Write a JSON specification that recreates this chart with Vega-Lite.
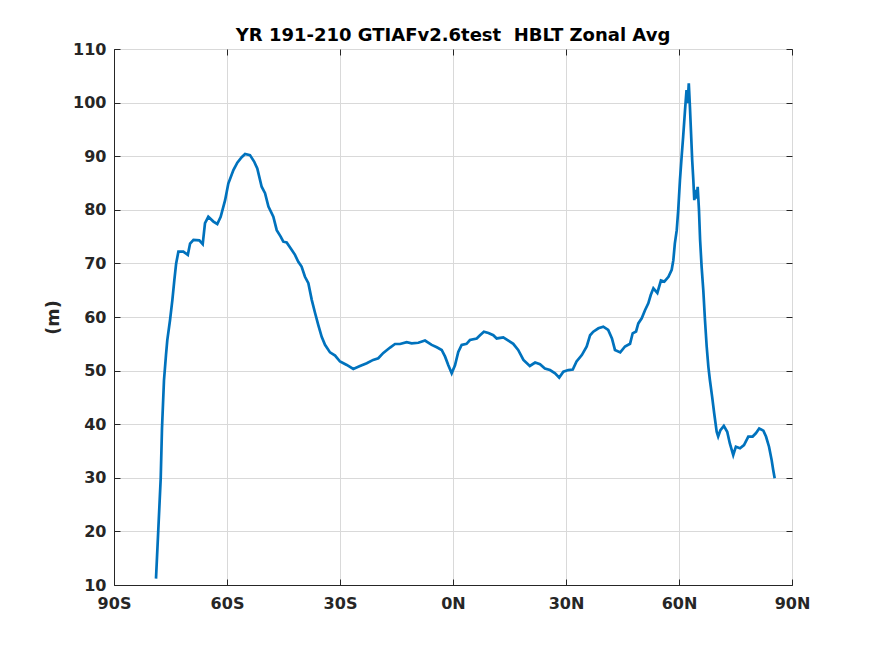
{
  "$schema": "https://vega.github.io/schema/vega-lite/v6.json",
  "width": 678,
  "height": 536,
  "autosize": {"type": "none"},
  "padding": {"left": 114, "top": 49, "right": 83, "bottom": 71},
  "background": "white",
  "view": {"stroke": "#262626", "strokeWidth": 1},
  "title": {
    "text": "YR 191-210 GTIAFv2.6test \u00a0HBLT Zonal Avg",
    "font": "DejaVu Sans", "fontSize": 18, "fontWeight": "bold", "color": "#000000", "offset": -4
  },
  "config": {
    "axis": {
      "labelFont": "DejaVu Sans", "labelFontSize": 16, "labelFontWeight": "bold", "labelColor": "#262626",
      "labelFlush": false,
      "titleFont": "DejaVu Sans", "titleFontSize": 17.6, "titleFontWeight": "bold", "titleColor": "#262626",
      "gridColor": "#d9d9d9", "domainColor": "#262626", "tickColor": "#262626",
      "tickSize": -6
    }
  },
  "data": {
    "values": [
      {"lat": -78.85, "hblt": 11.2},
      {"lat": -78.2, "hblt": 20.9},
      {"lat": -77.6, "hblt": 29.9},
      {"lat": -77.26, "hblt": 39.2},
      {"lat": -76.73, "hblt": 48.2},
      {"lat": -76.2, "hblt": 52.9},
      {"lat": -75.85, "hblt": 55.7},
      {"lat": -75.13, "hblt": 59.4},
      {"lat": -74.5, "hblt": 63.2},
      {"lat": -73.98, "hblt": 66.9},
      {"lat": -73.5, "hblt": 70.0},
      {"lat": -72.9, "hblt": 72.2},
      {"lat": -71.6, "hblt": 72.2},
      {"lat": -70.4, "hblt": 71.6},
      {"lat": -69.8, "hblt": 73.7},
      {"lat": -68.9, "hblt": 74.4},
      {"lat": -67.35, "hblt": 74.3},
      {"lat": -66.45, "hblt": 73.6},
      {"lat": -65.84, "hblt": 77.5},
      {"lat": -64.96, "hblt": 78.7},
      {"lat": -63.6, "hblt": 77.8},
      {"lat": -62.58, "hblt": 77.35},
      {"lat": -61.68, "hblt": 78.7},
      {"lat": -60.5, "hblt": 81.8},
      {"lat": -59.65, "hblt": 84.9},
      {"lat": -58.3, "hblt": 87.4},
      {"lat": -57.26, "hblt": 88.8},
      {"lat": -56.1, "hblt": 89.8},
      {"lat": -55.2, "hblt": 90.4},
      {"lat": -53.9, "hblt": 90.2},
      {"lat": -52.8, "hblt": 89.0},
      {"lat": -51.96, "hblt": 87.7},
      {"lat": -50.8, "hblt": 84.3},
      {"lat": -49.9, "hblt": 83.1},
      {"lat": -49.0, "hblt": 80.6},
      {"lat": -47.7, "hblt": 78.7},
      {"lat": -46.8, "hblt": 76.2},
      {"lat": -45.75, "hblt": 75.0},
      {"lat": -45.05, "hblt": 74.05},
      {"lat": -44.16, "hblt": 73.9},
      {"lat": -42.8, "hblt": 72.5},
      {"lat": -41.95, "hblt": 71.6},
      {"lat": -41.07, "hblt": 70.3},
      {"lat": -40.2, "hblt": 69.4},
      {"lat": -39.3, "hblt": 67.5},
      {"lat": -38.4, "hblt": 66.3},
      {"lat": -37.5, "hblt": 63.2},
      {"lat": -36.6, "hblt": 60.7},
      {"lat": -35.76, "hblt": 58.5},
      {"lat": -34.86, "hblt": 56.3},
      {"lat": -33.98, "hblt": 54.8},
      {"lat": -32.65, "hblt": 53.4},
      {"lat": -31.3, "hblt": 52.8},
      {"lat": -30.0, "hblt": 51.7},
      {"lat": -28.2, "hblt": 51.05},
      {"lat": -26.47, "hblt": 50.3},
      {"lat": -24.7, "hblt": 50.86},
      {"lat": -22.9, "hblt": 51.36},
      {"lat": -21.2, "hblt": 52.0},
      {"lat": -19.83, "hblt": 52.3},
      {"lat": -18.5, "hblt": 53.3},
      {"lat": -16.7, "hblt": 54.3},
      {"lat": -15.4, "hblt": 54.96},
      {"lat": -14.07, "hblt": 54.96},
      {"lat": -12.3, "hblt": 55.3},
      {"lat": -10.97, "hblt": 55.1},
      {"lat": -9.2, "hblt": 55.2},
      {"lat": -7.43, "hblt": 55.6},
      {"lat": -5.66, "hblt": 54.8},
      {"lat": -4.3, "hblt": 54.35},
      {"lat": -3.0, "hblt": 53.85},
      {"lat": -2.1, "hblt": 52.6},
      {"lat": -1.24, "hblt": 51.0},
      {"lat": -0.35, "hblt": 49.5},
      {"lat": 0.53, "hblt": 51.0},
      {"lat": 1.4, "hblt": 53.5},
      {"lat": 2.3, "hblt": 54.8},
      {"lat": 3.6, "hblt": 55.0},
      {"lat": 4.5, "hblt": 55.7},
      {"lat": 6.3, "hblt": 56.0},
      {"lat": 7.17, "hblt": 56.6},
      {"lat": 8.2, "hblt": 57.26},
      {"lat": 9.4, "hblt": 57.0},
      {"lat": 10.7, "hblt": 56.6},
      {"lat": 11.6, "hblt": 56.0},
      {"lat": 13.35, "hblt": 56.2},
      {"lat": 14.7, "hblt": 55.6},
      {"lat": 16.0, "hblt": 55.0},
      {"lat": 17.3, "hblt": 53.85},
      {"lat": 18.7, "hblt": 52.0},
      {"lat": 20.4, "hblt": 50.86},
      {"lat": 21.8, "hblt": 51.5},
      {"lat": 23.1, "hblt": 51.2},
      {"lat": 24.4, "hblt": 50.4},
      {"lat": 25.75, "hblt": 50.1},
      {"lat": 27.1, "hblt": 49.5},
      {"lat": 28.2, "hblt": 48.7},
      {"lat": 29.3, "hblt": 49.8},
      {"lat": 30.6, "hblt": 50.1},
      {"lat": 31.8, "hblt": 50.2},
      {"lat": 32.8, "hblt": 51.7},
      {"lat": 34.2, "hblt": 52.9},
      {"lat": 35.5, "hblt": 54.5},
      {"lat": 36.4, "hblt": 56.6},
      {"lat": 37.25, "hblt": 57.26},
      {"lat": 38.6, "hblt": 57.9},
      {"lat": 39.9, "hblt": 58.2},
      {"lat": 41.2, "hblt": 57.6},
      {"lat": 42.2, "hblt": 56.0},
      {"lat": 43.0, "hblt": 53.85},
      {"lat": 44.4, "hblt": 53.4},
      {"lat": 45.66, "hblt": 54.5},
      {"lat": 47.0, "hblt": 55.0},
      {"lat": 47.7, "hblt": 56.96},
      {"lat": 48.6, "hblt": 57.3},
      {"lat": 49.2, "hblt": 58.8},
      {"lat": 50.1, "hblt": 59.75},
      {"lat": 51.0, "hblt": 61.3},
      {"lat": 51.85, "hblt": 62.55},
      {"lat": 52.5, "hblt": 64.1},
      {"lat": 53.2, "hblt": 65.35},
      {"lat": 54.25, "hblt": 64.5},
      {"lat": 55.2, "hblt": 66.8},
      {"lat": 56.1, "hblt": 66.6},
      {"lat": 57.2, "hblt": 67.5},
      {"lat": 58.06, "hblt": 68.8},
      {"lat": 58.5, "hblt": 70.6},
      {"lat": 58.9, "hblt": 73.75},
      {"lat": 59.4, "hblt": 76.2},
      {"lat": 59.8, "hblt": 80.0},
      {"lat": 60.26, "hblt": 85.6},
      {"lat": 60.7, "hblt": 89.9},
      {"lat": 61.1, "hblt": 93.6},
      {"lat": 61.6, "hblt": 98.6},
      {"lat": 62.0, "hblt": 102.35},
      {"lat": 62.3, "hblt": 99.9},
      {"lat": 62.6, "hblt": 103.6},
      {"lat": 62.9, "hblt": 99.2},
      {"lat": 63.2, "hblt": 94.3},
      {"lat": 63.5, "hblt": 89.3},
      {"lat": 63.8, "hblt": 85.6},
      {"lat": 64.06, "hblt": 81.8},
      {"lat": 64.4, "hblt": 83.7},
      {"lat": 64.7, "hblt": 82.1},
      {"lat": 64.96, "hblt": 84.3},
      {"lat": 65.3, "hblt": 80.0},
      {"lat": 65.6, "hblt": 74.4},
      {"lat": 66.0, "hblt": 69.4},
      {"lat": 66.45, "hblt": 65.0},
      {"lat": 66.9, "hblt": 59.4},
      {"lat": 67.35, "hblt": 54.5},
      {"lat": 67.8, "hblt": 50.7},
      {"lat": 68.2, "hblt": 48.25},
      {"lat": 68.8, "hblt": 45.1},
      {"lat": 69.35, "hblt": 42.0},
      {"lat": 70.0, "hblt": 38.6},
      {"lat": 70.4, "hblt": 37.7},
      {"lat": 71.0, "hblt": 38.9},
      {"lat": 71.9, "hblt": 39.7},
      {"lat": 72.8, "hblt": 38.6},
      {"lat": 73.5, "hblt": 36.4},
      {"lat": 74.4, "hblt": 34.25},
      {"lat": 75.1, "hblt": 35.8},
      {"lat": 76.2, "hblt": 35.5},
      {"lat": 77.25, "hblt": 36.1},
      {"lat": 78.4, "hblt": 37.7},
      {"lat": 79.55, "hblt": 37.7},
      {"lat": 80.4, "hblt": 38.3},
      {"lat": 81.3, "hblt": 39.2},
      {"lat": 82.4, "hblt": 38.8},
      {"lat": 83.1, "hblt": 37.7},
      {"lat": 83.9, "hblt": 35.8},
      {"lat": 84.6, "hblt": 33.3},
      {"lat": 85.0, "hblt": 31.5},
      {"lat": 85.4, "hblt": 29.9}
    ]
  },
  "layer": [
    {
      "mark": {"type": "line", "color": "#0072BD", "strokeWidth": 2.7, "clip": true},
      "encoding": {
        "x": {
          "field": "lat", "type": "quantitative",
          "scale": {"domain": [-90, 90], "nice": false, "zero": false},
          "axis": {
            "title": null, "values": [-90, -60, -30, 0, 30, 60, 90], "labelPadding": 16,
            "labelExpr": "datum.value < 0 ? (-datum.value) + 'S' : datum.value + 'N'"
          }
        },
        "y": {
          "field": "hblt", "type": "quantitative",
          "scale": {"domain": [10, 110], "nice": false, "zero": false},
          "axis": {"title": "(m)", "values": [10, 20, 30, 40, 50, 60, 70, 80, 90, 100, 110], "labelPadding": 14, "titlePadding": 10}
        }
      }
    },
    {
      "mark": {"type": "line", "opacity": 0, "clip": true},
      "encoding": {
        "x": {
          "field": "lat", "type": "quantitative",
          "axis": {"orient": "top", "title": null, "labels": false, "grid": false, "domain": false, "values": [-90, -60, -30, 0, 30, 60, 90]}
        },
        "y": {
          "field": "hblt", "type": "quantitative",
          "axis": {"orient": "right", "title": null, "labels": false, "grid": false, "domain": false, "values": [10, 20, 30, 40, 50, 60, 70, 80, 90, 100, 110]}
        }
      }
    }
  ],
  "resolve": {"axis": {"x": "independent", "y": "independent"}}
}
